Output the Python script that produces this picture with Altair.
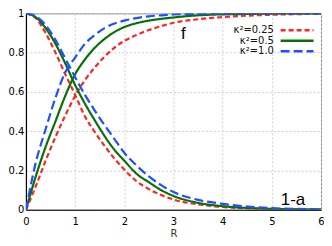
import altair as alt
import pandas as pd

R = [0, 0.2, 0.4, 0.6, 0.8, 1.0, 1.2, 1.4, 1.6, 1.8, 2.0, 2.25, 2.5, 2.75, 3.0, 3.5, 4.0, 4.5, 5.0, 5.5, 6.0]

kappas = ["κ²=0.25", "κ²=0.5", "κ²=1.0"]

f_025 = [0, 0.12, 0.25, 0.37, 0.48, 0.58, 0.66, 0.725, 0.78, 0.825, 0.86, 0.89, 0.915, 0.935, 0.952, 0.97, 0.981, 0.988, 0.993, 0.996, 0.998]
f_05 = [0, 0.17, 0.32, 0.45, 0.58, 0.69, 0.765, 0.825, 0.87, 0.905, 0.93, 0.95, 0.963, 0.972, 0.979, 0.99, 0.995, 0.997, 0.999, 1.0, 1.0]
f_10 = [0, 0.24, 0.41, 0.57, 0.7, 0.775, 0.845, 0.89, 0.925, 0.948, 0.963, 0.976, 0.985, 0.99, 0.994, 0.997, 0.999, 1.0, 1.0, 1.0, 1.0]

a_025 = [1, 0.975, 0.9, 0.8, 0.69, 0.585, 0.475, 0.395, 0.325, 0.26, 0.205, 0.145, 0.105, 0.075, 0.052, 0.027, 0.014, 0.007, 0.004, 0.002, 0.001]
a_05 = [1, 0.98, 0.925, 0.845, 0.745, 0.635, 0.54, 0.455, 0.375, 0.305, 0.25, 0.183, 0.14, 0.1, 0.07, 0.035, 0.018, 0.009, 0.004, 0.002, 0.001]
a_10 = [1, 0.985, 0.94, 0.865, 0.77, 0.675, 0.585, 0.505, 0.43, 0.36, 0.29, 0.225, 0.17, 0.125, 0.09, 0.05, 0.03, 0.016, 0.008, 0.004, 0.002]

x_ticks = [0, 1, 2, 3, 4, 5, 6]
y_ticks = [0, 0.2, 0.4, 0.6, 0.8, 1.0]

colors = ["#ff2424", "#087008", "#1f4fff"]
dashes = [[5, 3], [1, 0], [9, 4]]

rows = []
for k, fs, as_ in zip(kappas, [f_025, f_05, f_10], [a_025, a_05, a_10]):
    for r, v in zip(R, fs):
        rows.append({"R": r, "v": v, "kappa": k, "curve": "f"})
    for r, v in zip(R, as_):
        rows.append({"R": r, "v": v, "kappa": k, "curve": "1-a"})
df = pd.DataFrame(rows)

labels = pd.DataFrame({"R": [3.2, 5.43], "v": [0.87, 0.025], "t": ["f", "1-a"]})

xs = alt.Scale(domain=[0, 6], nice=False)
ys = alt.Scale(domain=[0, 1], nice=False)
x_axis = alt.Axis(values=x_ticks, format="~g", labelFlush=False, labelOverlap=False,
                  labelPadding=7, titlePadding=2)
y_axis = alt.Axis(values=y_ticks, format="~g", labelFlush=False, labelOverlap=False,
                  labelPadding=2)
x_enc = alt.X("R:Q", scale=xs, title="R", axis=x_axis)
y_enc = alt.Y("v:Q", scale=ys, title=None, axis=y_axis)

pad = "\u00a0" * 13 + "\u200b"

lines = alt.Chart(df).mark_line(strokeWidth=2.2, interpolate="monotone", clip=True).encode(
    x=x_enc,
    y=y_enc,
    color=alt.Color("kappa:N", scale=alt.Scale(domain=kappas, range=colors),
                    legend=alt.Legend(title=None, orient="none", legendX=254, legendY=12,
                                      symbolType="stroke", symbolSize=1089,
                                      symbolStrokeWidth=2.5, labelAlign="right",
                                      labelExpr=f"datum.label + '{pad}'",
                                      symbolOffset=0, labelOffset=0, labelFontSize=10,
                                      labelFont="DejaVu Sans", labelColor="#111",
                                      clipHeight=10, rowPadding=0.5, padding=0)),
    strokeDash=alt.StrokeDash("kappa:N", scale=alt.Scale(domain=kappas, range=dashes)),
    detail="curve:N",
    order="R:Q",
)

text = alt.Chart(labels).mark_text(font="Liberation Sans", fontSize=17, baseline="alphabetic",
                                   align="center", color="black").encode(
    x=x_enc, y=y_enc, text="t:N")

chart = alt.layer(lines, text).properties(
    width=296, height=197,
    padding={"left": 0, "top": 0, "right": -1, "bottom": 0},
).configure_view(stroke="#888", strokeWidth=1).configure_axis(
    grid=True, gridColor="#d0d0d0", gridDash=[2, 2], gridWidth=1,
    domainColor="#000", domainWidth=1.2, ticks=False,
    labelFont="DejaVu Sans", labelFontSize=10, labelColor="#000",
    titleFont="DejaVu Sans", titleFontSize=10, titleFontWeight="normal", titleColor="#333",
)

chart.save("out.html", embed_options={"renderer": "svg", "actions": False})
